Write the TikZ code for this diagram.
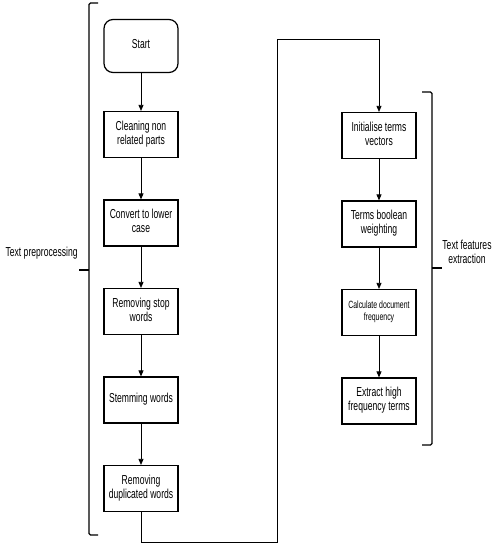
\documentclass[tikz,border=0pt]{standalone}
\usepackage{fontspec}
\usepackage{graphicx}
\setmainfont{Liberation Sans}
\usetikzlibrary{arrows.meta}

\newcommand{\sqz}[1]{\scalebox{0.66}[1]{\begin{tabular}{@{}c@{}}#1\end{tabular}}}

\tikzset{
  box/.style={draw, line width=1.2pt, minimum width=74pt, minimum height=46pt,
    inner sep=0pt, font=\fontsize{13}{14}\selectfont},
  startbox/.style={box, rounded corners=9pt, minimum height=53pt},
  bracket/.style={draw, line width=1.2pt, rounded corners=1.5pt},
  label/.style={font=\fontsize{13}{14}\selectfont, inner sep=0pt},
}

\begin{document}
\begin{tikzpicture}[x=1pt, y=-1pt, node distance=88.5pt, auto, >={Triangle[width=5pt,length=6pt]}, line width=0.7pt]
    \useasboundingbox (0,0) rectangle (492,550);
    \node[startbox] (start) at (141,46) {\sqz{Start}};
    \node[box] (clean) [below of=start] {\sqz{Cleaning non\\related parts}};
    \node[box] (lower) [below of=clean] {\sqz{Convert to lower\\case}};
    \node[box] (stop) [below of=lower] {\sqz{Removing stop\\words}};
    \node[box] (stem) [below of=stop] {\sqz{Stemming words}};
    \node[box] (dup) [below of=stem] {\sqz{Removing\\duplicated words}};
    \node[box] (init) at (379,135.5) {\sqz{Initialise terms\\vectors}};
    \node[box] (bool) [below of=init] {\sqz{Terms boolean\\weighting}};
    \node[box, font=\fontsize{10.5}{12}\selectfont] (docfreq) [below of=bool] {\sqz{Calculate document\\frequency}};
    \node[box] (high) [below of=docfreq] {\sqz{Extract high\\frequency terms}};
    \coordinate (low) at (277,542);
    \coordinate (top) at (277,39);
    \draw[->] (start) to (clean);
    \draw[->] (clean) to (lower);
    \draw[->] (lower) to (stop);
    \draw[->] (stop) to (stem);
    \draw[->] (stem) to (dup);
    \draw[->] (dup) |- (low) -- (top) -| (init);
    \draw[->] (init) to (bool);
    \draw[->] (bool) to (docfreq);
    \draw[->] (docfreq) to (high);
    % brackets
    \path[bracket] (98,3) -- (89,3) -- (89,535) -- (98,535);
    \path[bracket] (89,270) -- (79,270);
    \node[label, anchor=east] (pre) at (78,254) {\sqz{Text preprocessing}};
    \path[bracket] (422,92) -- (432,92) -- (432,445) -- (422,445);
    \path[bracket] (432,268) -- (442,268);
    \node[label] (feat) at (467,254) {\sqz{Text features\\extraction}};
\end{tikzpicture}
\end{document}
